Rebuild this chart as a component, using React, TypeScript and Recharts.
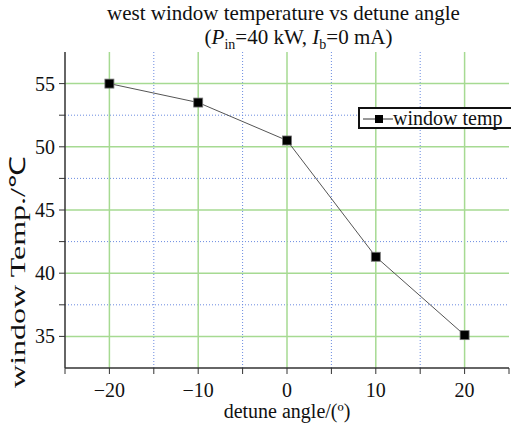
import React from 'react'
import { LineChart, Line, XAxis, YAxis, ReferenceLine, Legend, Label } from 'recharts'

const angles = [-20, -10, 0, 10, 20]
const windowTemp = [55.0, 53.5, 50.5, 41.3, 35.1]
const xMajor = [-20, -10, 0, 10, 20]
const xMinor = [-15, -5, 5, 15]
const xTicks = [-25, -20, -15, -10, -5, 0, 5, 10, 15, 20, 25]
const yMajor = [35, 40, 45, 50, 55]
const yMinor = [37.5, 42.5, 47.5, 52.5]
const yTicks = [35, 37.5, 40, 42.5, 45, 47.5, 50, 52.5, 55]

const data = angles.map((a, i) => ({ angle: a, temp: windowTemp[i] }))

const FONT = '"Liberation Serif", "Times New Roman", serif'
const GREEN = '#a6da92'
const BLUE = '#6b8be0'

const fmtMinus = (v: number) => (v < 0 ? '\u2212' + Math.abs(v) : String(v))

const XTick = ({ x, y, payload }: any) => {
  const v = payload.value
  if (v % 10 !== 0 || Math.abs(v) > 20) return null
  return (
    <text x={x} y={y + 21} textAnchor="middle" fontSize={20} fontFamily={FONT} fill="#111">
      {fmtMinus(v)}
    </text>
  )
}

const YTick = ({ x, y, payload }: any) => {
  const v = payload.value
  if (v % 5 !== 0) return null
  return (
    <text x={x - 2} y={y + 7} textAnchor="end" fontSize={20} fontFamily={FONT} fill="#111">
      {v}
    </text>
  )
}

const SquareDot = (props: any) => {
  const { cx, cy, index } = props
  return <rect key={index} x={cx - 4.5} y={cy - 4.5} width={9} height={9} fill="#000" stroke="#777" strokeWidth={0.8} />
}

const LegendBox = () => (
  <div
    style={{
      position: 'absolute',
      left: 358,
      top: 107,
      width: 180,
      height: 18,
      border: '2px solid #111',
      background: '#fff',
      display: 'flex',
      alignItems: 'center',
      fontFamily: FONT,
      fontSize: 20,
      color: '#111',
      whiteSpace: 'nowrap',
    }}
  >
    <svg width={33} height={18} style={{ flex: 'none' }}>
      <line x1={3} y1={10} x2={33} y2={10} stroke="#333" strokeWidth={1} />
      <rect x={15} y={6} width={8} height={8} fill="#000" />
    </svg>
    <span style={{ lineHeight: '18px' }}>window temp</span>
  </div>
)

export default function App() {
  return (
    <div style={{ position: 'absolute', left: 0, top: 0, width: 511, height: 427, background: '#fff', overflow: 'hidden', fontFamily: FONT }}>
      <div style={{ position: 'absolute', left: 0, top: 1, width: 567, textAlign: 'center', fontSize: 21, color: '#111', lineHeight: '24px' }}>
        west window temperature vs detune angle
      </div>
      <div style={{ position: 'absolute', left: 0, top: 25, width: 597, textAlign: 'center', fontSize: 21, color: '#111', lineHeight: '24px' }}>
        (<i>P</i><sub style={{ fontSize: 14 }}>in</sub>=40 kW, <i>I</i><sub style={{ fontSize: 14 }}>b</sub>=0 mA)
      </div>
      <LineChart width={511} height={427} data={data} margin={{ top: 52, right: 2, bottom: 19, left: 15 }}>
        {xMinor.map((v) => (
          <ReferenceLine key={'xm' + v} x={v} stroke={BLUE} strokeWidth={1} strokeDasharray="1 2" />
        ))}
        {yMinor.map((v) => (
          <ReferenceLine key={'ym' + v} y={v} stroke={BLUE} strokeWidth={1} strokeDasharray="1 2" />
        ))}
        {xMajor.map((v) => (
          <ReferenceLine key={'xM' + v} x={v} stroke={GREEN} strokeWidth={1.5} />
        ))}
        {yMajor.map((v) => (
          <ReferenceLine key={'yM' + v} y={v} stroke={GREEN} strokeWidth={1.5} />
        ))}
        <XAxis
          dataKey="angle"
          type="number"
          domain={[-25, 25]}
          ticks={xTicks}
          interval={0}
          height={40}
          tick={<XTick />}
          tickSize={6}
          axisLine={{ stroke: '#333', strokeWidth: 1.5 }}
          tickLine={{ stroke: '#333', strokeWidth: 1 }}
        >
          <Label
            content={() => (
              <text x={287} y={418} textAnchor="middle" fontSize={20} fontFamily={FONT} fill="#111">
                detune angle/(º)
              </text>
            )}
          />
        </XAxis>
        <YAxis
          type="number"
          domain={[32.5, 57.5]}
          ticks={yTicks}
          interval={0}
          width={50}
          tick={<YTick />}
          tickSize={6}
          axisLine={{ stroke: '#333', strokeWidth: 1.5 }}
          tickLine={{ stroke: '#333', strokeWidth: 1 }}
        >
          <Label
            content={() => (
              <text
                x={0}
                y={0}
                transform="translate(25, 272) rotate(-90)"
                textAnchor="middle"
                fontSize={22}
                textLength={232}
                lengthAdjust="spacingAndGlyphs"
                fontFamily={FONT}
                fill="#111"
              >
                window Temp./℃
              </text>
            )}
          />
        </YAxis>
        <Line
          type="linear"
          dataKey="temp"
          stroke="#555"
          strokeWidth={1}
          dot={SquareDot}
          activeDot={false}
          isAnimationActive={false}
        />
        <Legend content={() => <LegendBox />} wrapperStyle={{ position: 'absolute', left: 0, top: 0, width: 0, height: 0 }} />
      </LineChart>
    </div>
  )
}
